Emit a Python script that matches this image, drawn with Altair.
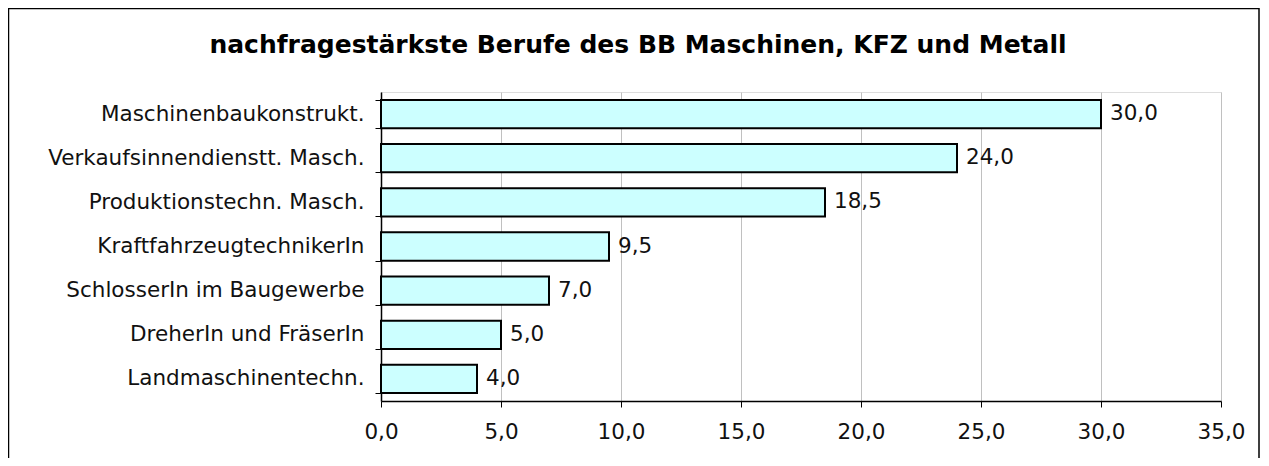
import altair as alt
import pandas as pd

categories = [
    "Maschinenbaukonstrukt.",
    "Verkaufsinnendienstt. Masch.",
    "Produktionstechn. Masch.",
    "KraftfahrzeugtechnikerIn",
    "SchlosserIn im Baugewerbe",
    "DreherIn und FräserIn",
    "Landmaschinentechn.",
]
values = [30.0, 24.0, 18.5, 9.5, 7.0, 5.0, 4.0]
x_ticks = [0, 5, 10, 15, 20, 25, 30, 35]
title_text = "nachfragestärkste Berufe des BB Maschinen, KFZ und Metall"

df = pd.DataFrame({"beruf": categories, "wert": values})

FONT = "DejaVu Sans"
FS = 21.5

y_enc = alt.Y(
    "beruf:N",
    sort=categories,
    title=None,
    scale=alt.Scale(paddingInner=0.36, paddingOuter=0.18),
    axis=alt.Axis(
        domainColor="black", domainWidth=1.5,
        ticks=True, tickBand="extent", tickSize=6, tickColor="black", tickWidth=1,
        labelFont=FONT, labelFontSize=FS, labelColor="#111111", labelPadding=11,
        labelLimit=400, grid=False,
    ),
)
x_enc = alt.X(
    "wert:Q",
    title=None,
    scale=alt.Scale(domain=[0, 35], nice=False, zero=True),
    axis=alt.Axis(
        values=x_ticks,
        labelExpr="replace(format(datum.value, '.1f'), '.', ',')",
        labelFlush=False,
        domainColor="black", domainWidth=1.5,
        tickSize=6, tickColor="black", tickWidth=1,
        labelFont=FONT, labelFontSize=FS, labelColor="#111111", labelPadding=14,
        grid=True, gridColor="#c0c0c0", gridWidth=1,
    ),
)

bars = alt.Chart(df).mark_bar(
    fill="#CCFFFF", stroke="black", strokeWidth=2
).encode(x=x_enc, y=y_enc)

labels = alt.Chart(df).transform_calculate(
    lab="replace(format(datum.wert, '.1f'), '.', ',')"
).mark_text(
    align="left", baseline="middle", dx=9, font=FONT, fontSize=FS, color="#111111"
).encode(x="wert:Q", y=alt.Y("beruf:N", sort=categories), text="lab:N")

one = alt.Data(values=[{"t": title_text}])

title = alt.Chart(one).mark_text(
    align="center", baseline="middle", font=FONT, fontSize=25, fontWeight="bold", color="black"
).encode(x=alt.value(257), y=alt.value(-47), text="t:N")

border = alt.Chart(one).mark_rect(
    fill=None, stroke="black", strokeWidth=1.5
).encode(x=alt.value(-372.5), x2=alt.value(878), y=alt.value(-83.5), y2=alt.value(480))

chart = alt.layer(border, bars, labels, title).properties(
    width=840, height=309,
    autosize=alt.AutoSizeParams(type="none"),
    padding={"left": 373, "top": 84, "right": 40, "bottom": 57},
).configure_view(stroke="#999999", strokeWidth=1.5).configure(background="white")

chart.save("out.html", embed_options={"renderer": "svg", "actions": False})
